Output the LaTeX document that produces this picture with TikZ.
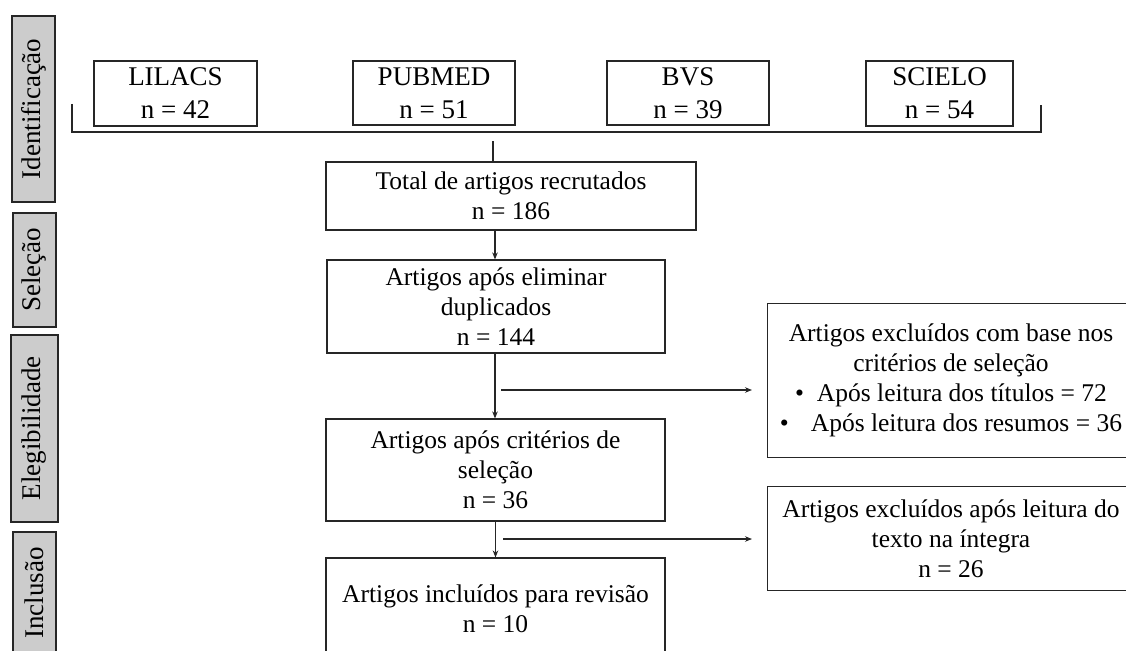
\documentclass[tikz,border=0pt]{standalone}
\usepackage{fontspec}
\setmainfont{Liberation Serif}
\usetikzlibrary{arrows.meta}
\begin{document}
\begin{tikzpicture}[x=1pt,y=-1pt,
  box/.style={draw=black!85, line width=1.1pt, fill=white, align=center, inner sep=0pt, font=\fontsize{25.5}{30}\selectfont},
  src/.style={box, font=\fontsize{27}{33}\selectfont},
  phase/.style={draw=black!85, line width=1.1pt, fill=black!20, rotate=90, inner sep=0pt, font=\fontsize{27}{33}\selectfont},
  conn/.style={draw=black!85, line width=1.1pt},
  arr/.style={conn, -{Stealth[length=7pt,width=5.5pt]}}]
\fill[white] (0,0) rectangle (1126,650);
\useasboundingbox (0,0) rectangle (1126,650);
\clip (0,0) rectangle (1126,650);
% phase labels
\node[phase, minimum width=186pt, minimum height=43pt] (ph1) at (33.5,109) {Identificação};
\node[phase, minimum width=114pt, minimum height=43pt] (ph2) at (34.5,270) {Seleção};
\node[phase, minimum width=187pt, minimum height=47pt] (ph3) at (34.5,428.5) {Elegibilidade};
\node[phase, minimum width=122pt, minimum height=43pt] (ph4) at (34.5,593) {Inclusão};
% sources
\node[src, minimum width=163pt, minimum height=65pt] (lilacs) at (175.5,93.5) {LILACS\\n = 42};
\node[src, minimum width=162pt, minimum height=64pt] (pubmed) at (434,93) {PUBMED\\n = 51};
\node[src, minimum width=162pt, minimum height=64pt] (bvs) at (688,93) {BVS\\n = 39};
\node[src, minimum width=147pt, minimum height=65pt] (scielo) at (939.5,93.5) {SCIELO\\n = 54};
% bracket
\coordinate (bl) at (72,104);
\coordinate (blc) at (72,132);
\coordinate (brc) at (1041,132);
\coordinate (br) at (1041,105);
\draw[conn] (bl) -- (blc) -- (brc) -- (br);
% main flow
\node[box, minimum width=370pt, minimum height=68pt] (total) at (511,196) {Total de artigos recrutados\\n = 186};
\node[box, minimum width=338pt, minimum height=93pt] (dup) at (496,306.5) {Artigos após eliminar\\duplicados\\n = 144};
\node[box, minimum width=339pt, minimum height=102pt] (crit) at (495.5,470) {Artigos após critérios de\\seleção\\n = 36};
\node[box, minimum width=339pt, minimum height=102pt] (incl) at (495.5,609) {Artigos incluídos para revisão\\n = 10};
\coordinate (tstart) at (493,141);
\draw[conn] (tstart) -- (tstart |- total.north);
\draw[arr] ([xshift=-16pt]total.south) -- ([xshift=-16pt]total.south |- dup.north);
\draw[arr] ([xshift=-1pt]dup.south) -- ([xshift=-1pt]dup.south |- crit.north);
\draw[arr] (crit.south) -- (crit.south |- incl.north);
% exclusions (boxes run past the right edge of the picture)
\node[box, draw=none, fill=none, minimum width=366pt, minimum height=153pt] (ex1) at (951,380.5) {Artigos excluídos com base nos\\critérios de seleção\\•\hspace{13pt}Após leitura dos títulos = 72\\•\hspace{22pt}Após leitura dos resumos = 36};
\node[box, draw=none, fill=none, minimum width=366pt, minimum height=103pt] (ex2) at (951,538.5) {Artigos excluídos após leitura do\\texto na íntegra\\n = 26};
\draw[conn] ([xshift=60pt]ex1.north east) -- (ex1.north west) -- (ex1.south west) -- ([xshift=60pt]ex1.south east);
\draw[conn] ([xshift=60pt]ex2.north east) -- (ex2.north west) -- (ex2.south west) -- ([xshift=60pt]ex2.south east);
\coordinate (a1s) at (501,390);
\coordinate (a1e) at (752,390);
\coordinate (a2s) at (503,539);
\coordinate (a2e) at (752,539);
\draw[arr] (a1s) -- (a1e);
\draw[arr] (a2s) -- (a2e);
\end{tikzpicture}
\end{document}
